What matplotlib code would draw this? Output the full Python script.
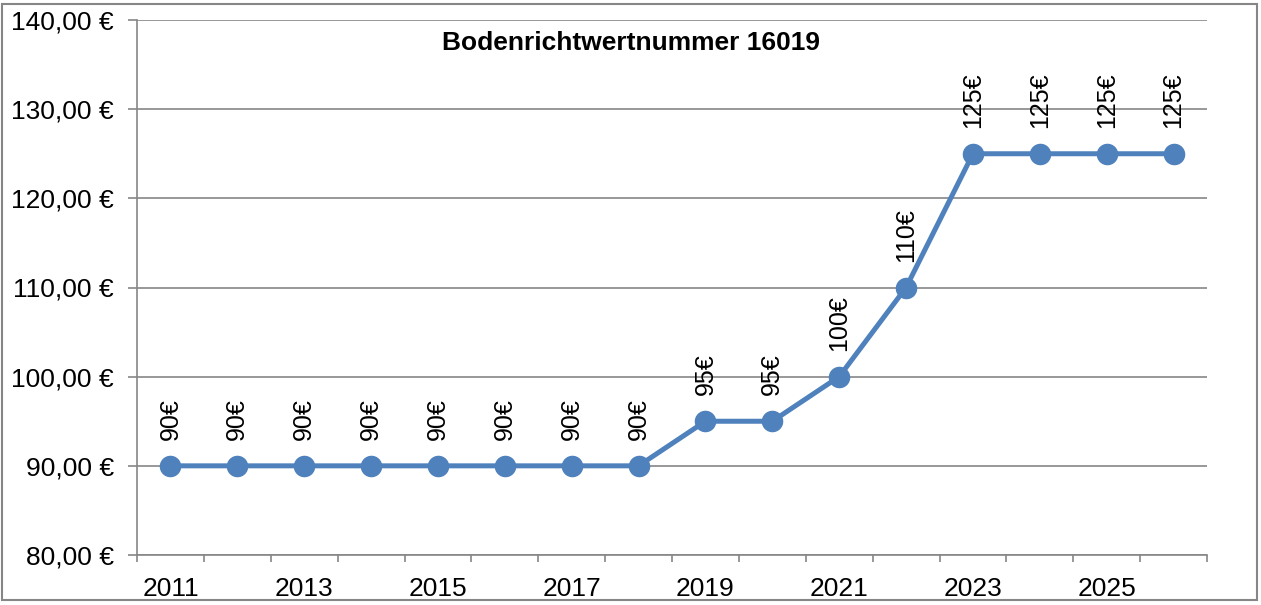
import matplotlib.pyplot as plt
from matplotlib.patches import Rectangle

plt.rcParams['font.family'] = ['Liberation Sans', 'DejaVu Sans']

# data
years = list(range(2011, 2027))
values = [90, 90, 90, 90, 90, 90, 90, 90, 95, 95, 100, 110, 125, 125, 125, 125]
y_ticks = [80, 90, 100, 110, 120, 130, 140]
title = 'Bodenrichtwertnummer 16019'

blue = '#4F81BD'
grey = '#868686'

fig = plt.figure(figsize=(12.61, 6.05), dpi=100)
ax = fig.add_axes([137 / 1261, 1 - 555 / 605, 1070 / 1261, 535 / 605])

x = list(range(len(years)))
ax.plot(x, values, color=blue, lw=3.6, marker='o', ms=14.5, zorder=3, clip_on=False)

# data labels, rotated
for xi, v in zip(x, values):
    ax.annotate(f'{v}€', (xi, v), xytext=(0, 26), textcoords='offset pixels',
                rotation=90, ha='center', va='bottom', fontsize=18, zorder=4)

ax.set_xlim(-0.5, len(years) - 0.5)
ax.set_ylim(80, 140)

ax.set_yticks(y_ticks)
ax.set_yticklabels([f'{t},00 €' for t in y_ticks])
ax.yaxis.grid(True, color=grey, lw=1.2)
ax.set_axisbelow(True)

# category boundary ticks, labels on every other category
ax.set_xticks([i - 0.5 for i in range(len(years) + 1)])
ax.set_xticklabels([])
ax.set_xticks(x[::2], minor=True)
ax.set_xticklabels([str(y) for y in years[::2]], minor=True)
ax.tick_params(axis='x', which='minor', length=0, pad=16, labelsize=19)
ax.tick_params(axis='x', which='major', length=5, width=1.2, color=grey)
ax.tick_params(axis='y', length=6.5, width=1.2, color=grey, pad=10, labelsize=19)

for s in ['top', 'right']:
    ax.spines[s].set_visible(False)
for s in ['left', 'bottom']:
    ax.spines[s].set_color(grey)
    ax.spines[s].set_linewidth(1.2)

fig.text(0.5, 1 - 43 / 605, title, ha='center', va='center',
         fontsize=19, fontweight='bold')

# outer chart border
fig.patches.append(Rectangle((2 / 1261, 5 / 605), 1255 / 1261, 596 / 605,
                             transform=fig.transFigure, fill=False,
                             edgecolor=grey, lw=1.5))

fig.savefig('out.png', dpi=100)
